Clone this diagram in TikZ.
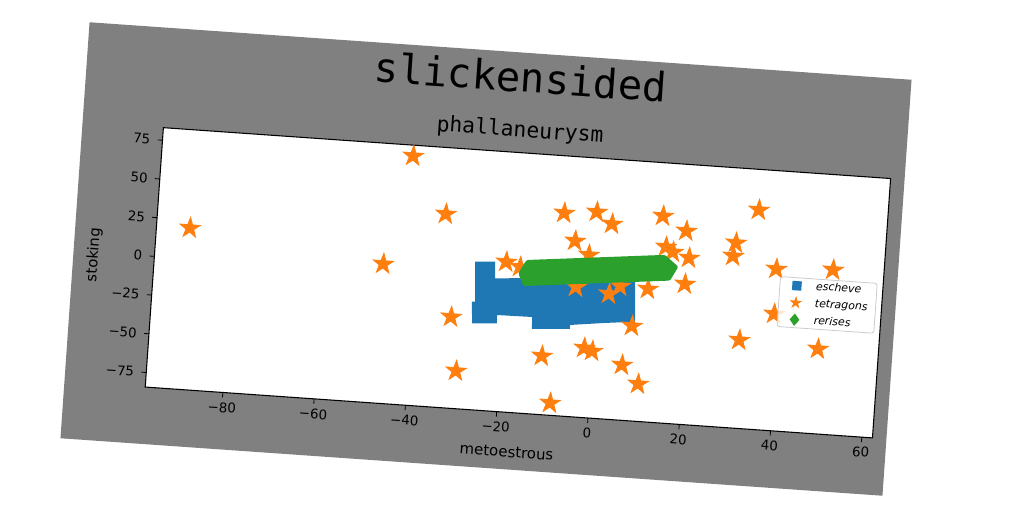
\documentclass[tikz,border=0pt]{standalone}
\usepackage{fontspec}
\setmainfont{DejaVu Sans}
\newfontfamily\monofont{DejaVu Sans Mono}
\usepackage{tikz}
\usetikzlibrary{shapes.geometric}
\definecolor{tabblue}{HTML}{1F77B4}
\definecolor{taborange}{HTML}{FF7F0E}
\definecolor{tabgreen}{HTML}{2CA02C}
\definecolor{figgray}{HTML}{808080}
\definecolor{legedge}{HTML}{CCCCCC}

\begin{document}
\begin{tikzpicture}
  [
    x=0.75pt, y=0.75pt,
    OrangeStar/.style={star, star points=5, star point ratio=2.618, fill=taborange, draw=taborange, line width=0.6pt, inner sep=0pt, minimum size=16pt},
    LegendStar/.style={OrangeStar, minimum size=8pt},
    BlueSquare/.style={rectangle, fill=tabblue, inner sep=0pt, minimum size=7pt},
    GreenDiamond/.style={diamond, fill=tabgreen, inner sep=0pt, minimum width=7.5pt, minimum height=9.5pt},
    TickLabel/.style={font=\fontsize{10}{12}\selectfont, inner sep=0pt},
    AxisLabel/.style={font=\fontsize{11.2}{13}\selectfont, inner sep=0pt},
    LegendText/.style={font=\fontsize{8.2}{10}\selectfont\itshape, anchor=base west, inner sep=0pt}
  ]
  \useasboundingbox (0,0) rectangle (1024,512);
  \begin{scope}[shift={(486,253)}, rotate=-4, transform shape]
    % Figure
    \fill[figgray] (-412,-208.5) rectangle (412,208.5);
    \node[font=\monofont\fontsize{30.4}{36}\selectfont, anchor=base] (title) at (22,169) {slickensided};
    \node[font=\monofont\fontsize{16}{19}\selectfont, anchor=base] (subtitle) at (25,124.2) {phallaneurysm};
    % Axes
    \draw[fill=white, line width=0.8pt] (-331,-151.5) rectangle (398,108.5);
    \foreach \t/\lbl [count=\i] in {-80/−80, -60/−60, -40/−40, -20/−20, 0/0, 20/20, 40/40, 60/60} {
      \draw[line width=0.6pt] ({112.8+4.575*\t},-151.5) -- ++(0,-4.9);
      \node[TickLabel, anchor=north] (xt\i) at ({112.8+4.575*\t},-161.2) {\lbl};
    }
    \foreach \t/\lbl [count=\i] in {-75/−75, -50/−50, -25/−25, 0/0, 25/25, 50/50, 75/75} {
      \draw[line width=0.6pt] (-331,{-20.5+1.552*\t}) -- ++(-4.9,0);
      \node[TickLabel, anchor=east] (yt\i) at (-343,{-20.5+1.552*\t}) {\lbl};
    }
    \node[AxisLabel] (xlabel) at (34,-191) {metoestrous};
    \node[AxisLabel, rotate=90] (ylabel) at (-391.4,-23.4) {stoking};
    % Data
    \begin{scope}[shift={(112.8,-20.5)}, x=3.431pt, y=1.164pt]
      \fill[tabblue] (-27,11.0) -- (-22.6,11.9) -- (-22.4,1.2) -- (-17.4,2.3) -- (8.2,6.4) -- (8.8,-20.4)
        -- (1.8,-22.7) -- (-5.3,-25.4) -- (-5.3,-28.0) -- (-13.6,-29.7) -- (-13.7,-22.0) -- (-21.4,-22.3)
        -- (-21.3,-27.6) -- (-26.7,-28.8) -- (-27.1,-14.9) -- (-26.4,-14.7) -- cycle;
      \foreach \px/\py [count=\i] in {-89.7/19.8, -47.0/5.4, -42.1/76.1, -34.1/40.3, -31.4/-25.6,
          -29.5/-60.1, -20.2/12.2, -17.1/9.6, -8.3/46.3, -1.2/48.4, 2.3/41.4, -5.5/28.8, -2.3/20.4,
          -11.0/-46.6, -8.5/-76.5, -1.9/-39.6, -0.1/-41.2, 6.6/-48.8, 10.4/-60.3, 8.2/-23.3,
          2.7/-3.7, -4.6/-0.7, 5.0/1.9, 11.1/1.2, 19.1/6.1, 13.3/48.8, 18.6/40.2, 14.4/29.0,
          16.0/26.1, 19.6/23.0, 34.1/57.0, 29.6/34.8, 29.2/26.2, 38.8/19.8, 51.2/21.8,
          31.8/-27.5, 49.1/-29.7, 39.0/-9.2} {
        \node[OrangeStar] (s\i) at (\px,\py) {};
      }
      \fill[tabgreen, rounded corners=1pt] (-17.4,5.5) -- (-15.8,14.4) -- (14.3,23.9) -- (17.4,16.9)
        -- (15.8,7.6) -- (-16.1,-2.5) -- cycle;
    \end{scope}
    % Legend
    \draw[legedge, fill=white, fill opacity=0.8, rounded corners=2pt, line width=0.6pt] (295,-47) rectangle (392,3);
    \node[BlueSquare] (lg1) at (312,-5) {};
    \node[LegendText] (lt1) at (331,-8) {escheve};
    \node[LegendStar] (lg2) at (312,-22) {};
    \node[LegendText] (lt2) at (331,-25) {tetragons};
    \node[GreenDiamond] (lg3) at (312,-39) {};
    \node[LegendText] (lt3) at (331,-42) {rerises};
  \end{scope}
\end{tikzpicture}
\end{document}
